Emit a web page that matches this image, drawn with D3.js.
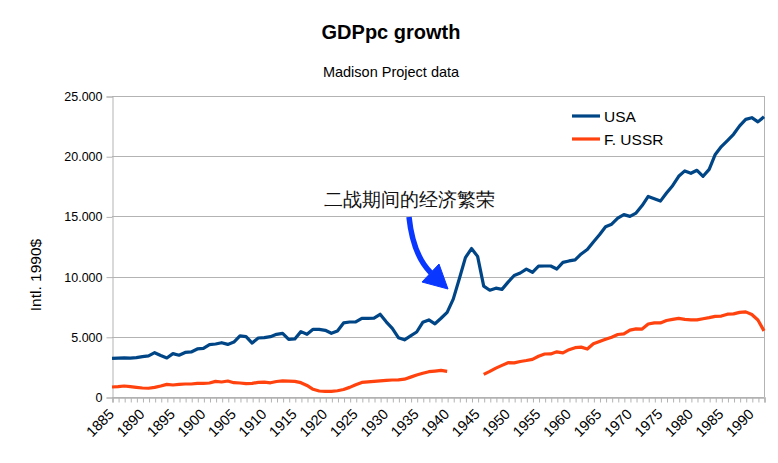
<!DOCTYPE html>
<html>
<head>
<meta charset="utf-8">
<script src="https://cdn.jsdelivr.net/npm/d3@7"></script>
<style>
  html, body { margin: 0; padding: 0; background: #fff; }
  svg { display: block; }
  text { font-family: "Liberation Sans", Arial, sans-serif; }
</style>
</head>
<body>
<svg id="chart" width="778" height="463"></svg>
<script>
// ---- data ----
const firstYear = 1885;
const lastYear = 1992;
const years = d3.range(firstYear, lastYear + 1);

const usa = [
  3210, 3230, 3250, 3230, 3270, 3350, 3420, 3680, 3450, 3240,   // 1885-1894
  3600, 3470, 3700, 3740, 3990, 4040, 4350, 4400, 4510, 4370,   // 1895-1904
  4560, 5070, 5020, 4480, 4900, 4930, 5010, 5205, 5290, 4790,   // 1905-1914
  4820, 5430, 5205, 5620, 5620, 5540, 5290, 5480, 6150, 6230,   // 1915-1924
  6230, 6530, 6530, 6550, 6870, 6240, 5700, 4930, 4750, 5070,   // 1925-1934
  5400, 6200, 6400, 6080, 6540, 7030, 8130, 9820, 11580, 12330, // 1935-1944
  11680, 9210, 8870, 9040, 8940, 9540, 10090, 10300, 10620, 10360, // 1945-1954
  10870, 10880, 10880, 10630, 11180, 11300, 11390, 11880, 12250, 12880, // 1955-1964
  13470, 14140, 14350, 14850, 15150, 15000, 15280, 15900, 16660, 16470, // 1965-1974
  16270, 16940, 17550, 18330, 18780, 18580, 18830, 18330, 18910, 20150, // 1975-1984
  20800, 21300, 21820, 22520, 23060, 23200, 22850, 23270            // 1985-1992
];

const ussr = [
  830, 858, 914, 858, 803, 747, 725, 803, 914, 1052,    // 1885-1894
  997, 1052, 1080, 1080, 1135, 1135, 1163, 1301, 1246, 1329, // 1895-1904
  1190, 1163, 1107, 1135, 1218, 1230, 1180, 1290, 1340, 1320, // 1905-1914
  1300, 1190, 960, 640, 500, 470, 470, 520, 620, 800,  // 1915-1924
  1020, 1210, 1260, 1300, 1340, 1380, 1410, 1430, 1480, 1650, // 1925-1934
  1830, 1970, 2100, 2150, 2210, 2130, null, null, null, null, // 1935-1944
  null, 1880, 2130, 2400, 2630, 2850, 2830, 2950, 3030, 3130, // 1945-1954
  3380, 3570, 3580, 3750, 3670, 3930, 4095, 4140, 3985, 4420, // 1955-1964
  4610, 4800, 4970, 5190, 5240, 5555, 5655, 5645, 6060, 6160, // 1965-1974
  6155, 6350, 6450, 6530, 6450, 6410, 6400, 6500, 6590, 6700, // 1975-1984
  6720, 6880, 6900, 7030, 7070, 6850, 6400, 5490             // 1985-1992
];

const xTickLabels = [1885, 1890, 1895, 1900, 1905, 1910, 1915, 1920, 1925, 1930, 1935,
  1940, 1945, 1950, 1955, 1960, 1965, 1970, 1975, 1980, 1985, 1990];
const yTicks = [0, 5000, 10000, 15000, 20000, 25000];
const seriesNames = ["USA", "F. USSR"];
const seriesColors = ["#004586", "#ff420e"];

const titleText = "GDPpc growth";
const subtitleText = "Madison Project data";
const yAxisTitle = "Intl. 1990$";
const annotationText = "二战期间的经济繁荣";

// ---- layout ----
const svg = d3.select("#chart");
const plotLeft = 112, plotRight = 764, plotTop = 96, plotBottom = 397;

const x = d3.scalePoint().domain(years).range([plotLeft, plotRight]);
const y = d3.scaleLinear().domain([0, 25000]).range([plotBottom, plotTop]);

const grid = "#b3b3b3";

// horizontal gridlines
svg.append("g").selectAll("line").data(yTicks).join("line")
  .attr("x1", plotLeft).attr("x2", plotRight)
  .attr("y1", d => Math.round(y(d)) + 0.5).attr("y2", d => Math.round(y(d)) + 0.5)
  .attr("stroke", grid).attr("stroke-width", 1);

// right border
svg.append("line").attr("x1", plotRight + 0.5).attr("x2", plotRight + 0.5)
  .attr("y1", plotTop).attr("y2", plotBottom).attr("stroke", grid);

// y axis
const yAxis = d3.axisLeft(y).tickValues(yTicks).tickSize(6).tickPadding(4)
  .tickFormat(d => d3.format(",")(d).replace(/,/g, "."));
const gy = svg.append("g").attr("transform", `translate(${plotLeft + 0.5},0.5)`).call(yAxis);
gy.select(".domain").attr("stroke", grid);
gy.selectAll(".tick line").attr("stroke", grid);
gy.selectAll(".tick text").attr("font-size", "12.5px").attr("fill", "#000")
  .attr("font-family", "Liberation Sans, Arial, sans-serif");

// x axis
const xAxis = d3.axisBottom(x).tickSize(5).tickFormat("");
const gx = svg.append("g").attr("transform", `translate(0.5,${plotBottom + 0.5})`).call(xAxis);
gx.select(".domain").attr("stroke", grid).attr("stroke-width", 1.5);
gx.selectAll(".tick line").attr("stroke", grid);

svg.append("g").selectAll("text").data(xTickLabels).join("text")
  .attr("transform", d => `translate(${x(d) + 3},${415}) rotate(-45)`)
  .attr("text-anchor", "end")
  .attr("font-size", "14.5px")
  .attr("fill", "#000")
  .text(d => d);

// lines
const seriesData = [usa, ussr];
seriesData.forEach((vals, i) => {
  const line = d3.line()
    .defined(d => d[1] !== null)
    .x(d => x(d[0])).y(d => y(d[1]));
  svg.append("path")
    .datum(years.map((yr, j) => [yr, vals[j]]))
    .attr("fill", "none")
    .attr("stroke", seriesColors[i])
    .attr("stroke-width", 3.2)
    .attr("stroke-linejoin", "round")
    .attr("stroke-linecap", "butt")
    .attr("d", line);
});

// legend
const legend = svg.append("g");
seriesNames.forEach((name, i) => {
  const ly = 116 + i * 23;
  legend.append("line").attr("x1", 572).attr("x2", 600).attr("y1", ly).attr("y2", ly)
    .attr("stroke", seriesColors[i]).attr("stroke-width", 3.2);
  legend.append("text").attr("x", 604).attr("y", ly).attr("dy", "0.36em")
    .attr("font-size", "15.5px").attr("fill", "#000").text(name);
});

// titles
svg.append("text").attr("x", 391).attr("y", 39).attr("text-anchor", "middle")
  .attr("font-size", "20px").attr("font-weight", "bold").attr("fill", "#000").text(titleText);
svg.append("text").attr("x", 391).attr("y", 77).attr("text-anchor", "middle")
  .attr("font-size", "14.5px").attr("fill", "#000").text(subtitleText);
svg.append("text").attr("transform", "translate(41,275) rotate(-90)")
  .attr("text-anchor", "middle").attr("font-size", "15.5px").attr("fill", "#000").text(yAxisTitle);

// annotation
svg.append("text").attr("x", 409).attr("y", 206).attr("text-anchor", "middle")
  .attr("font-family", "Noto Sans CJK SC, sans-serif")
  .attr("font-size", "18.5px").attr("font-weight", 500).attr("fill", "#111").text(annotationText);

const arrowColor = "#0a37ff";
svg.append("path")
  .attr("d", "M409,217 Q413,255 431,273")
  .attr("fill", "none").attr("stroke", arrowColor).attr("stroke-width", 5.5);
svg.append("path")
  .attr("d", "M422,282 L439,264 L448,289 Z")
  .attr("fill", arrowColor).attr("stroke", arrowColor).attr("stroke-width", 1).attr("stroke-linejoin", "round");
</script>
</body>
</html>
